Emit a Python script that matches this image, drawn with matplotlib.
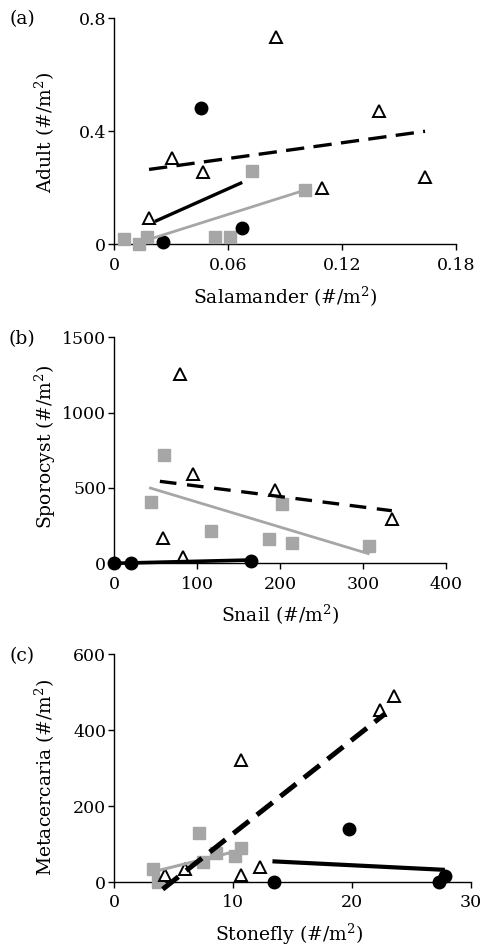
import matplotlib
matplotlib.use("Agg")
import matplotlib.pyplot as plt

plt.rcParams['font.family'] = ['DejaVu Serif']
plt.rcParams['mathtext.fontset'] = 'dejavuserif'

GRAY = '#a6a6a6'

# ---------------- Panel (a) ----------------
a_tri_x = [0.0183, 0.0304, 0.0468, 0.0853, 0.1096, 0.1393, 0.1637]
a_tri_y = [0.093, 0.305, 0.257, 0.733, 0.198, 0.473, 0.238]
a_cir_x = [0.0258, 0.0456, 0.0674]
a_cir_y = [0.007, 0.482, 0.056]
a_sq_x = [0.0051, 0.0132, 0.0172, 0.0532, 0.0609, 0.0723, 0.1005]
a_sq_y = [0.020, 0.0, 0.027, 0.025, 0.025, 0.260, 0.192]
a_dash_x = [0.0183, 0.1637]
a_dash_y = [0.265, 0.400]
a_blk_x = [0.0214, 0.0674]
a_blk_y = [0.081, 0.219]
a_gry_x = [0.0172, 0.1005]
a_gry_y = [0.015, 0.192]
a_xticks = [0, 0.06, 0.12, 0.18]
a_xlabels = ['0', '0.06', '0.12', '0.18']
a_yticks = [0, 0.4, 0.8]
a_ylabels = ['0', '0.4', '0.8']

# ---------------- Panel (b) ----------------
b_tri_x = [58.4, 79.3, 83.3, 95.4, 194, 334.8]
b_tri_y = [171, 1256, 40, 596, 484, 296]
b_sq_x = [44.3, 60.4, 116.3, 186.3, 202.8, 214.5, 307.8]
b_sq_y = [404, 718, 216, 162, 396, 138, 116]
b_cir_x = [0, 20.5, 165.5]
b_cir_y = [0, 0, 16]
b_dash_x = [55, 335]
b_dash_y = [544, 349]
b_gry_x = [42, 308]
b_gry_y = [502, 62]
b_blk_x = [0, 166]
b_blk_y = [0, 22]
b_xticks = [0, 100, 200, 300, 400]
b_yticks = [0, 500, 1000, 1500]

# ---------------- Panel (c) ----------------
c_tri_x = [4.26, 5.94, 10.63, 10.63, 12.25, 22.34, 23.55]
c_tri_y = [17.6, 34, 321, 18.4, 40, 453, 490]
c_cir_x = [13.4, 19.74, 27.3, 27.8]
c_cir_y = [0, 139, 0, 17]
c_sq_x = [3.28, 3.64, 7.09, 7.49, 8.55, 10.15, 10.63]
c_sq_y = [33, 1, 130, 52, 76, 69, 89]
c_dash_x = [4.07, 22.8]
c_dash_y = [-19, 444]
c_gry_x = [3.28, 10.63]
c_gry_y = [27, 84]
c_blk_x = [13.3, 27.8]
c_blk_y = [54.5, 32]
c_xticks = [0, 10, 20, 30]
c_yticks = [0, 200, 400, 600]

W, H = 481, 946
fig = plt.figure(figsize=(W / 100, H / 100), dpi=100)


def make_ax(left, top, right, bottom):
    return fig.add_axes([left / W, 1 - bottom / H, (right - left) / W, (bottom - top) / H])


axa = make_ax(114.3, 18.3, 456.0, 244.3)
axb = make_ax(114.3, 337.3, 445.7, 563.3)
axc = make_ax(114.3, 654.3, 471.0, 882.0)

FS_TICK = 12.5
FS_LAB = 13.5


def style(ax, xlim, ylim, xt, yt, xl, yl, xlabel, ylabel, xlab_pos, ylab_pos):
    ax.set_xlim(*xlim)
    ax.set_ylim(*ylim)
    for s in ['top', 'right']:
        ax.spines[s].set_visible(False)
    for s in ['left', 'bottom']:
        ax.spines[s].set_linewidth(1.0)
        ax.spines[s].set_color('black')
    ax.set_xticks(xt)
    ax.set_yticks(yt)
    if xl is not None:
        ax.set_xticklabels(xl)
    if yl is not None:
        ax.set_yticklabels(yl)
    ax.tick_params(direction='out', length=4.3, width=1.0, labelsize=FS_TICK, pad=1.5)
    ax.tick_params(axis='x', pad=4.5)
    ax.set_xlabel(xlabel, fontsize=FS_LAB, va='center')
    ax.set_ylabel(ylabel, fontsize=FS_LAB, va='center')
    ax.xaxis.set_label_coords(*xlab_pos)
    ax.yaxis.set_label_coords(*ylab_pos)
    ax.patch.set_alpha(0)


def draw(ax, tri, cir, sq, dash, blk, gry, dashes, lw_d, lw_b, lw_g):
    ax.plot(sq[0], sq[1], 's', color=GRAY, ms=8.4, mec=GRAY, clip_on=False, zorder=3)
    ax.plot(cir[0], cir[1], 'o', color='black', ms=9.0, clip_on=False, zorder=3)
    ax.plot(tri[0], tri[1], '^', mfc='white', mec='black', mew=1.4, ms=8.0, clip_on=False, zorder=4)
    ax.plot(gry[0], gry[1], '-', color=GRAY, lw=lw_g, clip_on=False, zorder=5, solid_capstyle='butt')
    ax.plot(blk[0], blk[1], '-', color='black', lw=lw_b, clip_on=False, zorder=5, solid_capstyle='butt')
    ax.plot(dash[0], dash[1], '-', color='black', lw=lw_d, dashes=dashes, clip_on=False, zorder=5,
            dash_capstyle='butt')


draw(axa, (a_tri_x, a_tri_y), (a_cir_x, a_cir_y), (a_sq_x, a_sq_y),
     (a_dash_x, a_dash_y), (a_blk_x, a_blk_y), (a_gry_x, a_gry_y), (5.5, 2.8), 2.4, 2.4, 2.0)
style(axa, (0, 0.18), (0, 0.8), a_xticks, a_yticks, a_xlabels, a_ylabels,
      r'Salamander (#/m$^{2}$)', r'Adult (#/m$^{2}$)',
      (0.5, (244.3 - 297) / 226.0), ((45 - 114.3) / 341.7, 0.495))

draw(axb, (b_tri_x, b_tri_y), (b_cir_x, b_cir_y), (b_sq_x, b_sq_y),
     (b_dash_x, b_dash_y), (b_blk_x, b_blk_y), (b_gry_x, b_gry_y), (5.0, 3.2), 2.4, 2.6, 2.0)
style(axb, (0, 400), (0, 1500), b_xticks, b_yticks, None, None,
      r'Snail (#/m$^{2}$)', r'Sporocyst (#/m$^{2}$)',
      (0.5, (563.3 - 615) / 226.0), ((45 - 114.3) / 331.4, 0.517))

draw(axc, (c_tri_x, c_tri_y), (c_cir_x, c_cir_y), (c_sq_x, c_sq_y),
     (c_dash_x, c_dash_y), (c_blk_x, c_blk_y), (c_gry_x, c_gry_y), (4.0, 2.0), 3.6, 3.0, 2.2)
style(axc, (0, 30), (0, 600), c_xticks, c_yticks, None, None,
      r'Stonefly (#/m$^{2}$)', r'Metacercaria (#/m$^{2}$)',
      (0.49, (882 - 934) / 227.7), ((45 - 114.3) / 356.7, 0.46))

for lab, y in [('(a)', 19), ('(b)', 339), ('(c)', 656)]:
    fig.text(22 / W, 1 - y / H, lab, fontsize=13.5, ha='center', va='center')

fig.savefig('out.png', dpi=100)
